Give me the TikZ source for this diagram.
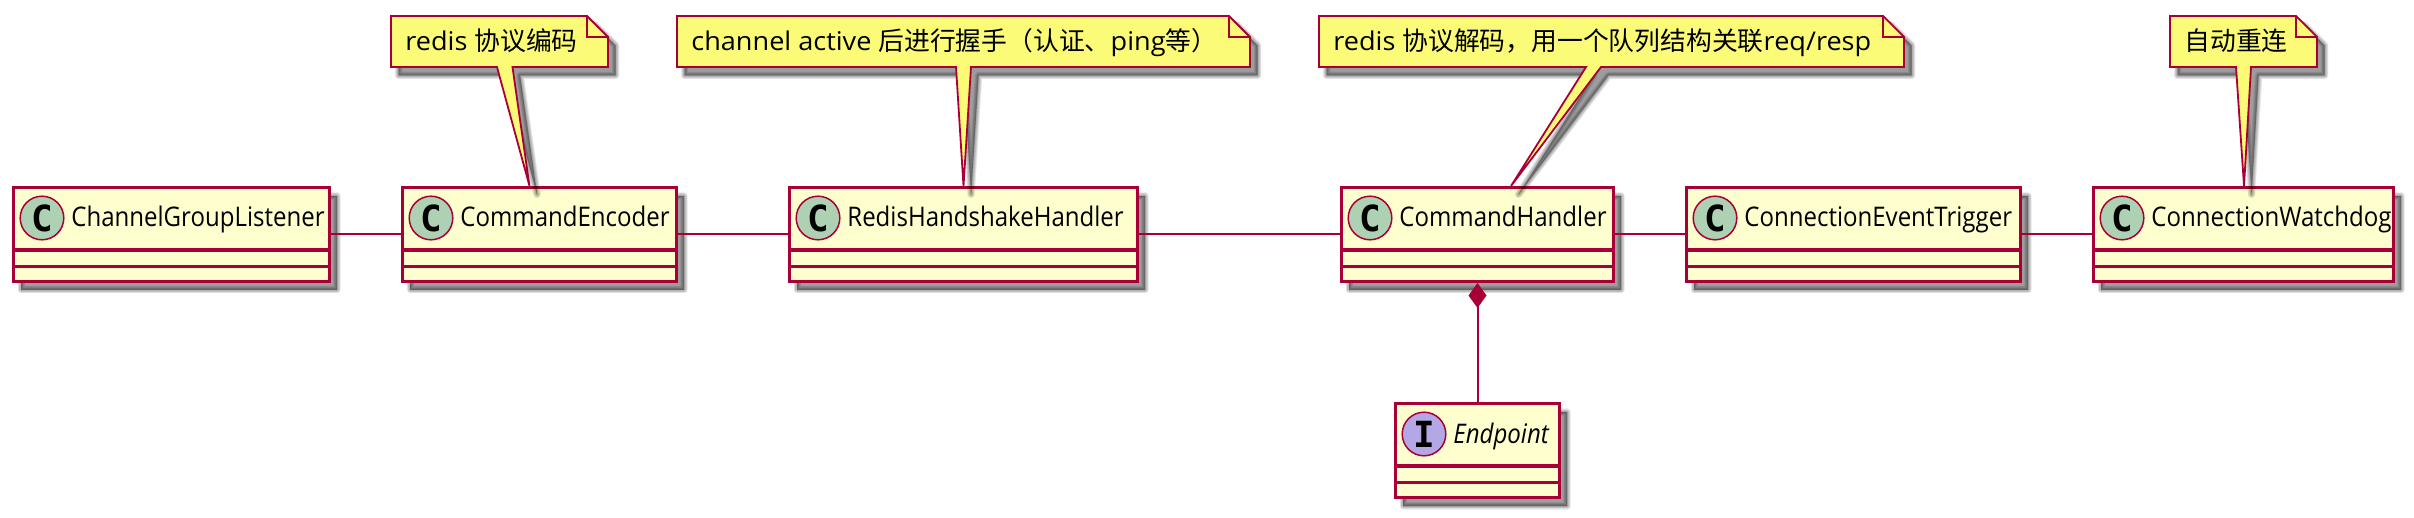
\documentclass[tikz,border=0pt]{standalone}
\usepackage{fontspec}
\setmainfont{Open Sans}
\newfontfamily\clsfont{Open Sans}[FakeStretch=0.89]
\newfontfamily\notefont{Open Sans}[FakeStretch=1.05]
\newfontfamily\zhfont{Noto Sans CJK SC}
\newfontfamily\dotfont{DejaVu Sans Mono}[BoldFont={DejaVu Sans Mono Bold}]
\usetikzlibrary{positioning, calc, arrows.meta}
\definecolor{umlred}{HTML}{A80036}
\definecolor{umlfill}{HTML}{FEFECE}
\definecolor{notefill}{HTML}{FBFB77}
\definecolor{dotgreen}{HTML}{ADD1B2}
\definecolor{dotpurple}{HTML}{B4A7E5}
\tikzset{
    shadowlayer/.style = {preaction={draw=black, fill=black, line width=#1, line join=round, opacity=0.065, transform canvas={xshift=3.8pt, yshift=-4.2pt}}},
    umlshadow/.style = {shadowlayer=3.8pt, shadowlayer=3.2pt, shadowlayer=2.6pt, shadowlayer=2pt, shadowlayer=1.4pt, shadowlayer=0.8pt, shadowlayer=0.2pt},
    cls/.style = {rectangle, draw=umlred, fill=umlfill, line width=1.7pt, inner sep=0pt, minimum height=46.8pt, umlshadow},
    clsline/.style = {draw=umlred, line width=1.6pt},
    clsdot/.style = {circle, draw=umlred, line width=0.75pt, inner sep=0pt, minimum size=21.8pt, font=\dotfont\bfseries\fontsize{18}{18}\selectfont},
    clstext/.style = {anchor=base west, inner sep=0pt, font=\clsfont\fontsize{13.5}{16}\selectfont},
    notebody/.style = {draw=umlred, fill=notefill, line width=0.9pt, line join=miter, umlshadow},
    notefold/.style = {draw=umlred, line width=0.9pt},
    notetext/.style = {anchor=base west, inner sep=0pt, font=\notefont\fontsize{12.9}{15}\selectfont},
    link/.style = {draw=umlred, line width=1pt},
}
\newcommand{\zh}[1]{{\zhfont #1}}
% name, left, top, right, dot colour, letter, text
\newcommand{\classbox}[7]{
    \node [cls, anchor=north west, minimum width=(#4-#2-3.4)*0.5pt] (#1) at (#2,#3) {};
    \draw [clsline] ($(#1.north west)+(0,64)$) -- ($(#1.north east)+(0,64)$);
    \draw [clsline] ($(#1.north west)+(0,80.5)$) -- ($(#1.north east)+(0,80.5)$);
    \node [clsdot, fill=#5] (#1-dot) at (#2+30,#3+32) {#6};
    \node [clstext] (#1-text) at (#2+59,#3+41) {#7};
}
% name, left, right, tail start, tail end, tip x, text
\newcommand{\notebox}[7]{
    \coordinate (#1-tip) at (#6,186);
    \draw [notebody] (#2,16) -- (#3-21,16) -- (#3,37) -- (#3,67) -- (#5,67) -- (#1-tip) -- (#4,67) -- (#2,67) -- cycle;
    \draw [notefold] (#3-21,16) -- (#3-21,37) -- (#3,37);
    \node [notetext] (#1) at (#2+14,51) {#7};
}

\begin{document}
\begin{tikzpicture}[x=0.5pt, y=-0.5pt]
    \useasboundingbox (0,0) rectangle (2414,518);

    \classbox{listener}{12}{186}{331}{dotgreen}{C}{ChannelGroupListener}
    \classbox{encoder}{401}{186}{678}{dotgreen}{C}{CommandEncoder}
    \classbox{handshake}{788}{186}{1139}{dotgreen}{C}{RedisHandshakeHandler}
    \classbox{handler}{1340}{186}{1615}{dotgreen}{C}{CommandHandler}
    \classbox{trigger}{1685}{186}{2022}{dotgreen}{C}{ConnectionEventTrigger}
    \classbox{watchdog}{2092}{186}{2395}{dotgreen}{C}{ConnectionWatchdog}
    \classbox{endpoint}{1394}{402}{1561}{dotpurple}{I}{\itshape Endpoint}

    \draw [link] (listener) -- (encoder);
    \draw [link] (encoder) -- (handshake);
    \draw [link] (handshake) -- (handler);
    \draw [link] (handler) -- (trigger);
    \draw [link] (trigger) -- (watchdog);
    \draw [link, {Diamond[length=12.5pt, width=9pt, umlred]}-] (handler) -- (endpoint);

    \notebox{encnote}{391}{608}{497}{512.5}{529.5}{redis \zh{协议编码}}
    \notebox{shakenote}{677}{1250}{956}{971}{963.5}{channel active \zh{后进行握手（认证、}ping\zh{等）}}
    \notebox{handnote}{1319}{1904}{1586}{1601}{1511}{redis \zh{协议解码，用一个队列结构关联}req/resp}
    \notebox{watchnote}{2170}{2317}{2236}{2251}{2244}{\zh{自动重连}}
\end{tikzpicture}
\end{document}
